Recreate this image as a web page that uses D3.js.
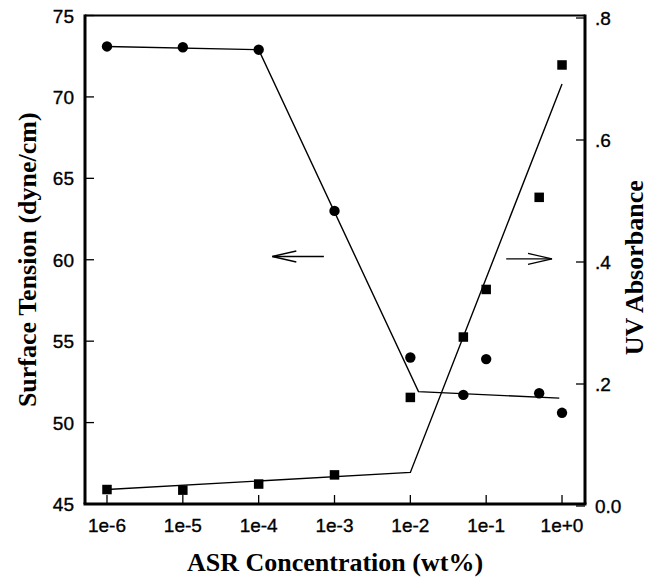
<!DOCTYPE html>
<html>
<head>
<meta charset="utf-8">
<script src="https://cdn.jsdelivr.net/npm/d3@7"></script>
<style>
  html, body { margin: 0; padding: 0; background: #fff; }
  svg { display: block; }
</style>
</head>
<body>
<svg id="chart" width="654" height="581"></svg>
<script>
// ASR concentration (wt%) at which each sample was measured
const concentrations = [1e-6, 1e-5, 1e-4, 1e-3, 1e-2, 5e-2, 1e-1, 5e-1, 1e0];
// Surface tension (dyne/cm), left axis, circles
const surfaceTension = [73.1, 73.05, 72.9, 63.0, 54.0, 51.7, 53.9, 51.8, 50.6];
// UV absorbance, right axis, squares
const absorbance = [0.027, 0.026, 0.036, 0.051, 0.178, 0.277, 0.355, 0.506, 0.723];

// Piecewise fitted lines
const tensionFitX = [1e-6, 1e-4, 0.0128, 0.92];
const tensionFitY = [73.1, 72.9, 51.9, 51.5];
const absorbanceFitX = [1e-6, 1e-2, 1e0];
const absorbanceFitY = [0.027, 0.055, 0.692];

// Tick values and labels
const xTicks = [1e-6, 1e-5, 1e-4, 1e-3, 1e-2, 1e-1, 1e0];
const xTickLabels = ["1e-6", "1e-5", "1e-4", "1e-3", "1e-2", "1e-1", "1e+0"];
const leftTicks = [45, 50, 55, 60, 65, 70, 75];
const rightTicks = [0, 0.2, 0.4, 0.6, 0.8];
const rightTickLabels = ["0.0", ".2", ".4", ".6", ".8"];

// Direction arrows: [x0, x1, y] in data units (x1 is the tip)
const leftArrow = [10 ** -3.14, 10 ** -3.82, 60.2];
const rightArrow = [10 ** -0.736, 10 ** -0.132, 0.405];

const svg = d3.select("#chart");
const plot = { left: 85, right: 585, top: 15.5, bottom: 504 };

const x = d3.scaleLog()
  .domain([10 ** -6.29, 10 ** 0.303])
  .range([plot.left, plot.right]);
const yL = d3.scaleLinear().domain([45, 75]).range([plot.bottom, plot.top]);
const yR = d3.scaleLinear().domain([0, 0.8]).range([506, 18]);

const tickFont = "'Liberation Sans', Arial, sans-serif";
const titleFont = "'Liberation Serif', 'Times New Roman', serif";
const tickSize = 19;
const titleSize = 26;

// Ticks (inward)
const ticks = svg.append("g").attr("stroke", "#000").attr("stroke-width", 1.3);
ticks.selectAll("line.xt").data(xTicks).join("line")
  .attr("x1", d => x(d)).attr("x2", d => x(d))
  .attr("y1", plot.bottom).attr("y2", plot.bottom - 9);
ticks.selectAll("line.lt").data(leftTicks).join("line")
  .attr("x1", plot.left).attr("x2", plot.left + 9)
  .attr("y1", d => yL(d)).attr("y2", d => yL(d));
ticks.selectAll("line.rt").data(rightTicks).join("line")
  .attr("x1", plot.right).attr("x2", plot.right - 9)
  .attr("y1", d => yR(d)).attr("y2", d => yR(d));

// Frame
svg.append("line").attr("x1", plot.left).attr("x2", plot.right)
  .attr("y1", plot.top).attr("y2", plot.top)
  .attr("stroke", "#000").attr("stroke-width", 2);
svg.append("line").attr("x1", plot.left - 1.5).attr("x2", plot.right + 1.5)
  .attr("y1", plot.bottom).attr("y2", plot.bottom)
  .attr("stroke", "#000").attr("stroke-width", 3);
svg.append("line").attr("x1", plot.left).attr("x2", plot.left)
  .attr("y1", plot.top - 1).attr("y2", plot.bottom)
  .attr("stroke", "#000").attr("stroke-width", 3);
svg.append("line").attr("x1", plot.right).attr("x2", plot.right)
  .attr("y1", plot.top - 1).attr("y2", plot.bottom)
  .attr("stroke", "#000").attr("stroke-width", 3);

// Tick labels (slightly heavy strokes, as printed)
const labelStyle = sel => sel
  .attr("font-family", tickFont).attr("font-size", tickSize)
  .attr("fill", "#000").attr("stroke", "#000").attr("stroke-width", 0.35);
svg.append("g").selectAll("text").data(xTicks).join("text")
  .attr("x", d => x(d)).attr("y", 532)
  .attr("text-anchor", "middle")
  .call(labelStyle)
  .text((d, i) => xTickLabels[i]);
svg.append("g").selectAll("text").data(leftTicks).join("text")
  .attr("x", plot.left - 11).attr("y", d => yL(d) + 7)
  .attr("text-anchor", "end")
  .call(labelStyle)
  .text(d => d);
svg.append("g").selectAll("text").data(rightTicks).join("text")
  .attr("x", plot.right + 10).attr("y", d => yR(d) + 7)
  .attr("text-anchor", "start")
  .call(labelStyle)
  .text((d, i) => rightTickLabels[i]);

// Axis titles
svg.append("text")
  .attr("x", (plot.left + plot.right) / 2).attr("y", 571)
  .attr("text-anchor", "middle")
  .attr("font-family", titleFont).attr("font-weight", "bold").attr("font-size", titleSize)
  .text("ASR Concentration (wt%)");
svg.append("text")
  .attr("transform", `translate(36,${(plot.top + plot.bottom) / 2}) rotate(-90)`)
  .attr("text-anchor", "middle")
  .attr("font-family", titleFont).attr("font-weight", "bold").attr("font-size", titleSize)
  .text("Surface Tension (dyne/cm)");
svg.append("text")
  .attr("transform", `translate(643,${(plot.top + plot.bottom) / 2 + 8}) rotate(-90)`)
  .attr("text-anchor", "middle")
  .attr("font-family", titleFont).attr("font-weight", "bold").attr("font-size", titleSize)
  .text("UV Absorbance");

// Fitted lines
const tensionLine = d3.line().x(d => x(d[0])).y(d => yL(d[1]));
const absorbanceLine = d3.line().x(d => x(d[0])).y(d => yR(d[1]));
svg.append("path")
  .datum(d3.zip(tensionFitX, tensionFitY))
  .attr("d", tensionLine)
  .attr("fill", "none").attr("stroke", "#000").attr("stroke-width", 1.4);
svg.append("path")
  .datum(d3.zip(absorbanceFitX, absorbanceFitY))
  .attr("d", absorbanceLine)
  .attr("fill", "none").attr("stroke", "#000").attr("stroke-width", 1.4);

// Markers
svg.append("g").selectAll("circle").data(d3.zip(concentrations, surfaceTension)).join("circle")
  .attr("cx", d => x(d[0])).attr("cy", d => yL(d[1])).attr("r", 5.2)
  .attr("fill", "#000");
const sq = 9.5;
svg.append("g").selectAll("rect").data(d3.zip(concentrations, absorbance)).join("rect")
  .attr("x", d => x(d[0]) - sq / 2).attr("y", d => yR(d[1]) - sq / 2)
  .attr("width", sq).attr("height", sq)
  .attr("fill", "#000");

// Open-headed arrows pointing to each series' axis
function arrow(x0, x1, y) {
  const dir = Math.sign(x1 - x0);
  const g = svg.append("g").attr("stroke", "#000").attr("stroke-width", 1.3).attr("fill", "none");
  g.append("line").attr("x1", x0).attr("x2", x1).attr("y1", y).attr("y2", y);
  g.append("path")
    .attr("d", `M${x1 - dir * 24},${y - 5.5}L${x1},${y}L${x1 - dir * 24},${y + 5.5}`);
}
arrow(x(leftArrow[0]), x(leftArrow[1]), yL(leftArrow[2]));
arrow(x(rightArrow[0]), x(rightArrow[1]), yR(rightArrow[2]));
</script>
</body>
</html>
